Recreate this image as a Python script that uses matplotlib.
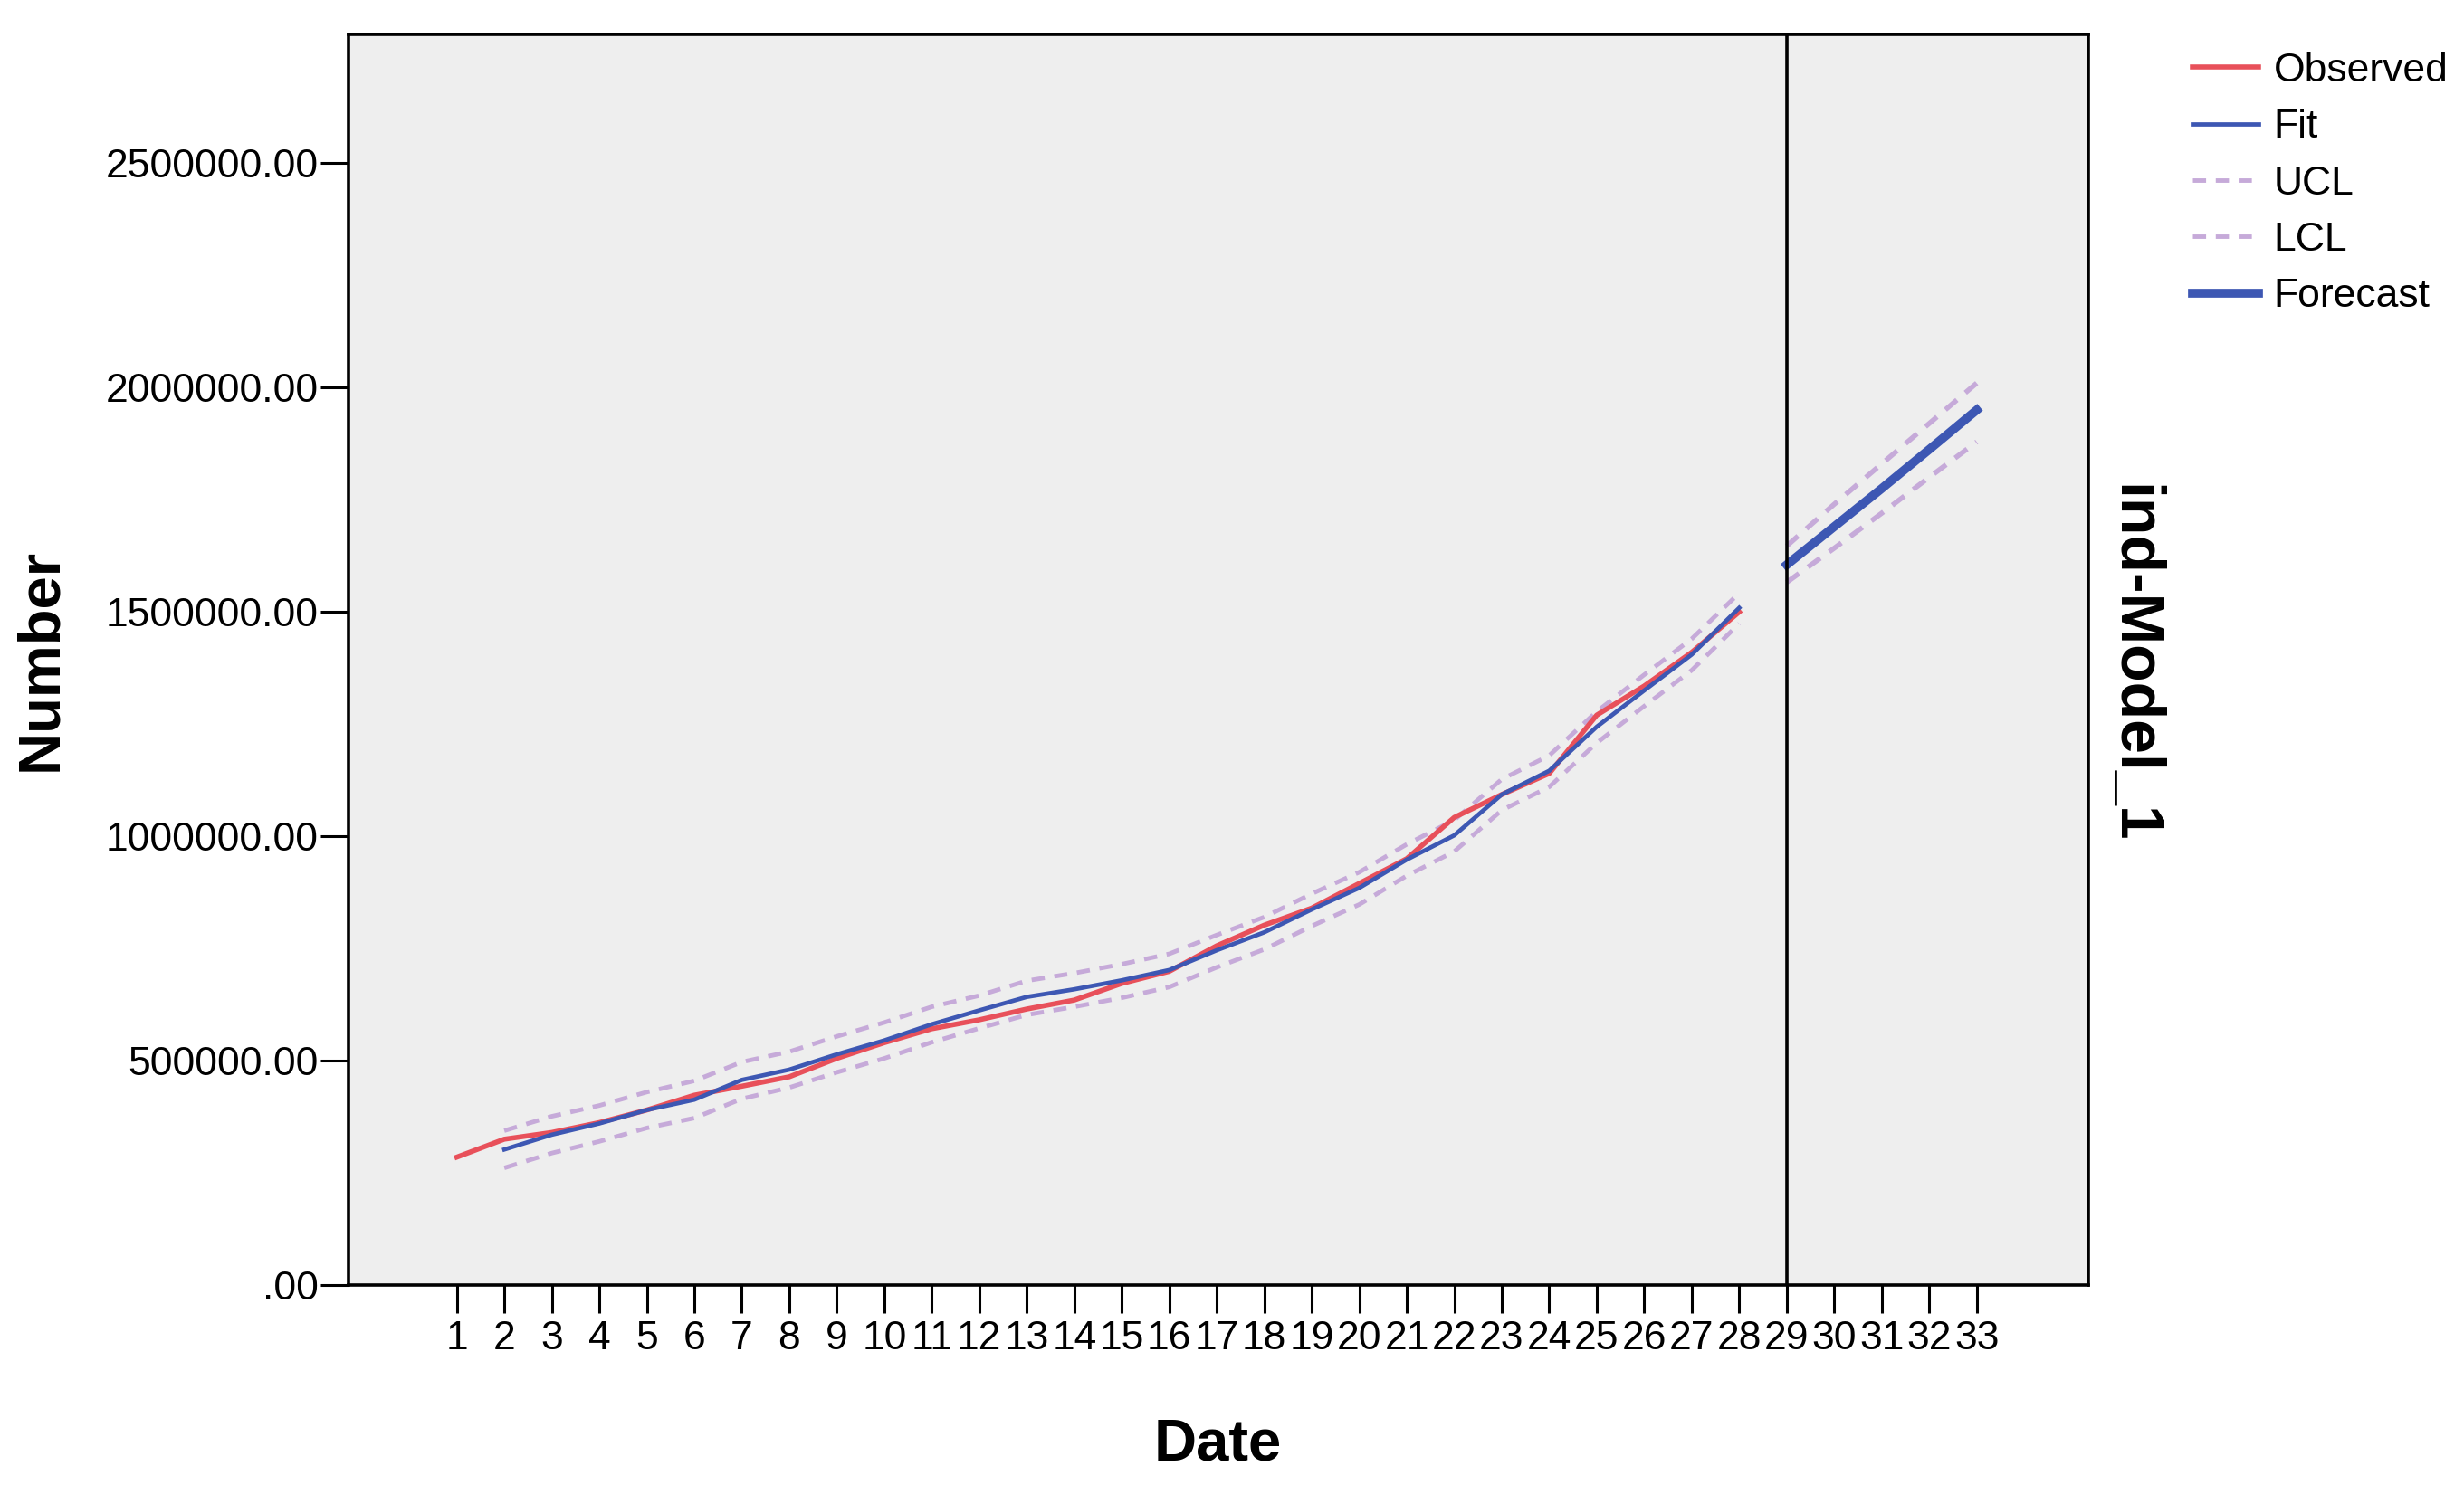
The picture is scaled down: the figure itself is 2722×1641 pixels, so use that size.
import matplotlib
matplotlib.use("Agg")
import matplotlib.pyplot as plt
from matplotlib.ticker import FuncFormatter

plt.rcParams['font.family'] = ['Liberation Sans', 'DejaVu Sans']

# data
dates = list(range(1, 34))
obs_dates = list(range(1, 29))
observed = [285000, 325000, 340000, 362000, 390000, 423000, 443000, 464000, 505000, 540000,
            571000, 591000, 615000, 635000, 672000, 699000, 756000, 802000, 840000, 895000,
            950000, 1042000, 1093000, 1140000, 1270000, 1335000, 1410000, 1500000]
fit_dates = list(range(2, 29))
fit = [302000, 335000, 360000, 390000, 413000, 457000, 480000, 514000, 545000, 581000,
       612000, 642000, 659000, 679000, 702000, 746000, 786000, 837000, 885000, 948000,
       1002000, 1093000, 1146000, 1244000, 1325000, 1405000, 1509000]
ucl_fit = [344000, 376000, 400000, 430000, 455000, 497000, 520000, 554000, 585000, 620000,
           645000, 678000, 695000, 715000, 738000, 780000, 820000, 872000, 920000, 982000,
           1036000, 1127000, 1180000, 1278000, 1360000, 1440000, 1542000]
lcl_fit = [261000, 294000, 320000, 350000, 372000, 415000, 440000, 474000, 505000, 541000,
           572000, 602000, 620000, 640000, 664000, 708000, 748000, 800000, 848000, 912000,
           966000, 1058000, 1110000, 1208000, 1290000, 1370000, 1474000]
fc_dates = [29, 30, 31, 32, 33]
forecast = [1605000, 1690000, 1775000, 1862000, 1950000]
ucl_fc = [1647000, 1740000, 1830000, 1920000, 2010000]
lcl_fc = [1566000, 1642000, 1720000, 1800000, 1879000]
y_ticks = [0, 500000, 1000000, 1500000, 2000000, 2500000]

red = '#e8505a'
blue = '#3d57b3'
lav = '#c6aad9'

fig = plt.figure(figsize=(27.22, 16.41), dpi=100)
ax = fig.add_axes([385 / 2722, 1 - 1420 / 1641, (2307 - 385) / 2722, (1420 - 38) / 1641])
ax.set_facecolor('#eeeeee')

ax.plot(obs_dates, observed, color=red, lw=4, label='Observed', zorder=3)
ax.plot(fit_dates, fit, color=blue, lw=3.4, label='Fit', zorder=4)
ax.plot(fit_dates, ucl_fit, color=lav, lw=3.5, dashes=(3, 2.2), label='UCL', zorder=2)
ax.plot(fit_dates, lcl_fit, color=lav, lw=3.5, dashes=(3, 2.2), label='LCL', zorder=2)
ax.plot(fc_dates, ucl_fc, color=lav, lw=4, dashes=(3, 2.2), zorder=2)
ax.plot(fc_dates, lcl_fc, color=lav, lw=4, dashes=(3, 2.2), zorder=2)
ax.plot(fc_dates, forecast, color=blue, lw=7, label='Forecast', zorder=4)
ax.axvline(29, color='black', lw=2.6, zorder=5)

ax.set_xlim(-1.28, 35.35)
ax.set_ylim(0, 2787000)
ax.set_xticks(dates)
ax.set_xticklabels([str(d) for d in dates])
ax.set_yticks(y_ticks)
ax.yaxis.set_major_formatter(FuncFormatter(lambda v, p: '.00' if v == 0 else '%.2f' % v))
ax.tick_params(axis='both', direction='out', length=22, width=2.2, labelsize=32, colors='black')
ax.tick_params(axis='y', pad=2)
ax.tick_params(axis='x', pad=6)
for s in ax.spines.values():
    s.set_linewidth(2.6)
    s.set_color('black')

fig.text(45 / 2722, 1 - 729 / 1641, 'Number', rotation=90, ha='center', va='center',
         fontsize=47, fontweight='bold')
fig.text(1345 / 2722, 1 - 1597 / 1641, 'Date', ha='center', va='center',
         fontsize=47, fontweight='bold')
fig.text(2356 / 2722, 1 - 733 / 1641, 'ind-Model_1', rotation=-90, ha='center', va='center',
         fontsize=49, fontweight='bold')

fig.legend(loc='upper left', bbox_to_anchor=(2422 / 2722, 1 - 58 / 1641), frameon=False,
           fontsize=32, handlelength=1.64, handletextpad=0.38, labelspacing=0.48,
           borderpad=0, borderaxespad=0)

fig.savefig('out.png', dpi=100)
